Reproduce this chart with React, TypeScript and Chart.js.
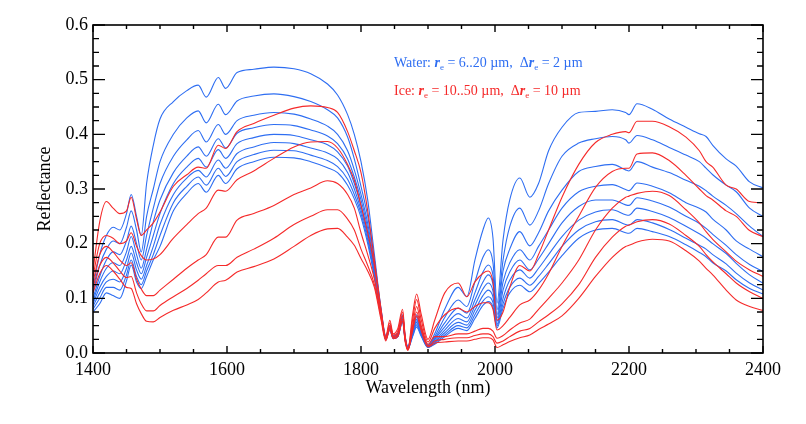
import React, { useEffect, useRef } from "react";
import { Chart, registerables } from "chart.js";

Chart.register(...registerables);

// ---------------- data ----------------
const WAVELENGTHS = [
  1400, 1410, 1420, 1430, 1440, 1450, 1457, 1465, 1472, 1480,
  1490, 1500, 1520, 1540, 1557, 1569, 1587, 1598, 1615, 1640,
  1670, 1700, 1725, 1750, 1765, 1780, 1790, 1800, 1810, 1820,
  1830, 1837, 1843, 1848, 1855, 1862, 1866, 1870, 1877, 1883,
  1890, 1900, 1910, 1925, 1945, 1958, 1970, 1982, 1990, 1997,
  2003, 2012, 2022, 2037, 2052, 2065, 2080, 2100, 2125, 2150,
  2175, 2195, 2200, 2212, 2235, 2260, 2285, 2305, 2315, 2325,
  2345, 2360, 2380, 2400,
];

const WATER_06 = [
  0.12, 0.18, 0.215, 0.23, 0.225, 0.255, 0.29, 0.25, 0.215, 0.31,
  0.38, 0.428, 0.46, 0.48, 0.49, 0.468, 0.504, 0.484, 0.513, 0.519,
  0.523, 0.52, 0.511, 0.492, 0.472, 0.436, 0.40, 0.35, 0.28, 0.18,
  0.08, 0.032, 0.05, 0.032, 0.036, 0.07, 0.03, 0.012, 0.045, 0.07,
  0.045, 0.015, 0.035, 0.08, 0.12, 0.103, 0.17, 0.225, 0.247, 0.21,
  0.091, 0.207, 0.28, 0.32, 0.285, 0.31, 0.37, 0.413, 0.44, 0.442,
  0.445, 0.44, 0.436, 0.456, 0.446, 0.428, 0.413, 0.401, 0.396, 0.38,
  0.355, 0.342, 0.313, 0.302,
];
const WATER_08 = [
  0.11, 0.16, 0.19, 0.205, 0.2, 0.23, 0.26, 0.225, 0.185, 0.25,
  0.3, 0.35, 0.4, 0.43, 0.443, 0.421, 0.455, 0.436, 0.461, 0.47,
  0.474, 0.469, 0.46, 0.445, 0.43, 0.395, 0.355, 0.305, 0.25, 0.17,
  0.078, 0.03, 0.048, 0.031, 0.035, 0.068, 0.028, 0.011, 0.042, 0.066,
  0.042, 0.014, 0.03, 0.065, 0.097, 0.085, 0.13, 0.175, 0.189, 0.165,
  0.079, 0.17, 0.231, 0.265, 0.234, 0.26, 0.31, 0.36, 0.384, 0.392,
  0.396, 0.39, 0.384, 0.398, 0.39, 0.376, 0.362, 0.35, 0.338, 0.326,
  0.307, 0.295, 0.265, 0.25,
];
const WATER_10 = [
  0.10, 0.14, 0.17, 0.185, 0.18, 0.205, 0.232, 0.2, 0.17, 0.215,
  0.265, 0.31, 0.36, 0.39, 0.407, 0.386, 0.418, 0.4, 0.425, 0.435,
  0.44, 0.437, 0.428, 0.415, 0.4, 0.37, 0.335, 0.29, 0.237, 0.163,
  0.076, 0.029, 0.047, 0.03, 0.034, 0.066, 0.027, 0.01, 0.04, 0.062,
  0.04, 0.013, 0.027, 0.055, 0.082, 0.073, 0.11, 0.148, 0.161, 0.142,
  0.07, 0.15, 0.19, 0.222, 0.196, 0.22, 0.26, 0.298, 0.332, 0.341,
  0.345, 0.335, 0.333, 0.35, 0.34, 0.33, 0.316, 0.305, 0.297, 0.287,
  0.27, 0.255, 0.232, 0.213,
];
const WATER_12 = [
  0.095, 0.13, 0.155, 0.165, 0.16, 0.185, 0.213, 0.18, 0.155, 0.19,
  0.24, 0.28, 0.33, 0.36, 0.377, 0.36, 0.392, 0.375, 0.402, 0.412,
  0.418, 0.416, 0.408, 0.397, 0.383, 0.355, 0.322, 0.28, 0.228, 0.158,
  0.074, 0.028, 0.046, 0.029, 0.033, 0.064, 0.026, 0.01, 0.038, 0.059,
  0.038, 0.012, 0.025, 0.048, 0.072, 0.064, 0.097, 0.13, 0.143, 0.126,
  0.064, 0.13, 0.165, 0.189, 0.17, 0.195, 0.225, 0.265, 0.295, 0.305,
  0.308, 0.299, 0.297, 0.311, 0.305, 0.293, 0.275, 0.265, 0.258, 0.245,
  0.225, 0.205, 0.19, 0.176,
];
const WATER_14 = [
  0.09, 0.12, 0.14, 0.15, 0.145, 0.17, 0.195, 0.165, 0.145, 0.175,
  0.215, 0.255, 0.31, 0.34, 0.356, 0.34, 0.372, 0.356, 0.383, 0.394,
  0.4, 0.398, 0.39, 0.381, 0.368, 0.342, 0.31, 0.27, 0.22, 0.153,
  0.072, 0.027, 0.045, 0.028, 0.032, 0.062, 0.025, 0.009, 0.036, 0.056,
  0.036, 0.011, 0.022, 0.042, 0.063, 0.057, 0.087, 0.117, 0.128, 0.113,
  0.058, 0.115, 0.148, 0.17, 0.152, 0.172, 0.2, 0.238, 0.268, 0.28,
  0.28, 0.271, 0.27, 0.284, 0.278, 0.267, 0.25, 0.237, 0.228, 0.217,
  0.197, 0.18, 0.162, 0.149,
];
const WATER_16 = [
  0.085, 0.11, 0.13, 0.135, 0.13, 0.155, 0.183, 0.152, 0.135, 0.16,
  0.195, 0.235, 0.29, 0.32, 0.334, 0.322, 0.353, 0.338, 0.365, 0.377,
  0.385, 0.383, 0.375, 0.366, 0.355, 0.33, 0.3, 0.262, 0.213, 0.148,
  0.07, 0.026, 0.044, 0.028, 0.031, 0.06, 0.024, 0.009, 0.034, 0.053,
  0.034, 0.011, 0.02, 0.037, 0.056, 0.051, 0.078, 0.105, 0.115, 0.102,
  0.053, 0.1, 0.133, 0.152, 0.137, 0.155, 0.18, 0.213, 0.243, 0.258,
  0.262, 0.253, 0.252, 0.265, 0.259, 0.248, 0.232, 0.218, 0.21, 0.2,
  0.182, 0.164, 0.143, 0.128,
];
const WATER_18 = [
  0.08, 0.1, 0.12, 0.12, 0.115, 0.143, 0.17, 0.14, 0.125, 0.15,
  0.18, 0.215, 0.275, 0.305, 0.322, 0.307, 0.338, 0.323, 0.35, 0.363,
  0.371, 0.37, 0.362, 0.352, 0.341, 0.318, 0.29, 0.255, 0.207, 0.143,
  0.068, 0.025, 0.043, 0.027, 0.03, 0.058, 0.023, 0.008, 0.032, 0.05,
  0.032, 0.01, 0.018, 0.033, 0.05, 0.046, 0.07, 0.095, 0.103, 0.092,
  0.05, 0.09, 0.12, 0.137, 0.124, 0.14, 0.163, 0.195, 0.225, 0.24,
  0.244, 0.235, 0.234, 0.244, 0.238, 0.226, 0.21, 0.197, 0.19, 0.18,
  0.163, 0.146, 0.128, 0.115,
];
const WATER_20 = [
  0.075, 0.09, 0.11, 0.105, 0.1, 0.132, 0.161, 0.13, 0.118, 0.14,
  0.17, 0.195, 0.26, 0.292, 0.31, 0.294, 0.325, 0.31, 0.337, 0.35,
  0.358, 0.357, 0.35, 0.339, 0.33, 0.307, 0.282, 0.248, 0.2, 0.138,
  0.066, 0.024, 0.042, 0.026, 0.03, 0.056, 0.022, 0.008, 0.03, 0.047,
  0.03, 0.01, 0.016, 0.03, 0.045, 0.041, 0.063, 0.087, 0.094, 0.084,
  0.046, 0.082, 0.11, 0.124, 0.112, 0.127, 0.148, 0.178, 0.21, 0.225,
  0.228, 0.22, 0.219, 0.228, 0.222, 0.213, 0.198, 0.184, 0.176, 0.165,
  0.15, 0.134, 0.118, 0.108,
];

const ICE_10 = [
  0.15, 0.24, 0.277, 0.265, 0.255, 0.26, 0.285, 0.245, 0.215, 0.225,
  0.238, 0.258, 0.305, 0.326, 0.34, 0.338, 0.38, 0.374, 0.405, 0.42,
  0.435, 0.448, 0.452, 0.449, 0.44, 0.405, 0.37, 0.33, 0.26, 0.17,
  0.08, 0.03, 0.06, 0.035, 0.045, 0.08, 0.03, 0.008, 0.07, 0.108,
  0.07, 0.025, 0.06, 0.11, 0.128, 0.103, 0.13, 0.146, 0.15, 0.13,
  0.06, 0.075, 0.12, 0.16, 0.15, 0.18, 0.225, 0.285, 0.345, 0.385,
  0.4, 0.405, 0.403, 0.424, 0.424, 0.414, 0.395, 0.37, 0.35, 0.34,
  0.307, 0.3, 0.277, 0.275,
];
const ICE_20 = [
  0.14, 0.2, 0.215, 0.21, 0.2, 0.205, 0.22, 0.195, 0.178, 0.17,
  0.172, 0.18, 0.21, 0.235, 0.255, 0.265, 0.298, 0.296, 0.317, 0.333,
  0.356, 0.377, 0.386, 0.387, 0.375, 0.345, 0.316, 0.27, 0.22, 0.16,
  0.075, 0.028, 0.055, 0.033, 0.04, 0.075, 0.028, 0.007, 0.06, 0.098,
  0.06, 0.02, 0.045, 0.07, 0.082, 0.075, 0.085, 0.092, 0.092, 0.08,
  0.042, 0.05, 0.065, 0.088, 0.097, 0.115, 0.145, 0.195, 0.25, 0.303,
  0.332, 0.338, 0.338, 0.364, 0.366, 0.352, 0.325, 0.3, 0.288, 0.28,
  0.26, 0.25, 0.224, 0.213,
];
const ICE_30 = [
  0.13, 0.18, 0.195, 0.185, 0.17, 0.16, 0.165, 0.135, 0.117, 0.105,
  0.105, 0.115, 0.135, 0.155, 0.17, 0.18, 0.212, 0.212, 0.243, 0.255,
  0.27, 0.29, 0.302, 0.315, 0.31, 0.29, 0.265, 0.22, 0.18, 0.135,
  0.07, 0.026, 0.05, 0.03, 0.035, 0.068, 0.025, 0.006, 0.05, 0.085,
  0.05, 0.016, 0.03, 0.03, 0.035, 0.035, 0.04, 0.045, 0.045, 0.04,
  0.027, 0.032, 0.042, 0.055, 0.062, 0.08, 0.1, 0.128, 0.17, 0.225,
  0.265, 0.285, 0.287, 0.292, 0.296, 0.288, 0.262, 0.238, 0.222, 0.208,
  0.185, 0.168, 0.152, 0.14,
];
const ICE_40 = [
  0.12, 0.16, 0.175, 0.165, 0.15, 0.138, 0.14, 0.11, 0.09, 0.077,
  0.077, 0.087, 0.103, 0.118, 0.133, 0.145, 0.16, 0.16, 0.175, 0.19,
  0.21, 0.235, 0.25, 0.262, 0.262, 0.245, 0.225, 0.19, 0.16, 0.125,
  0.065, 0.024, 0.046, 0.028, 0.032, 0.062, 0.022, 0.005, 0.045, 0.075,
  0.045, 0.013, 0.022, 0.025, 0.028, 0.028, 0.032, 0.035, 0.035, 0.03,
  0.018, 0.022, 0.03, 0.04, 0.045, 0.057, 0.07, 0.09, 0.125, 0.175,
  0.212, 0.232, 0.234, 0.24, 0.244, 0.236, 0.215, 0.195, 0.18, 0.167,
  0.145, 0.128, 0.112, 0.1,
];
const ICE_50 = [
  0.11, 0.145, 0.16, 0.15, 0.135, 0.12, 0.118, 0.09, 0.072, 0.058,
  0.057, 0.065, 0.078, 0.088, 0.098, 0.11, 0.13, 0.133, 0.148, 0.158,
  0.172, 0.195, 0.215, 0.227, 0.228, 0.212, 0.197, 0.173, 0.15, 0.12,
  0.06, 0.022, 0.043, 0.026, 0.03, 0.058, 0.02, 0.005, 0.04, 0.068,
  0.04, 0.011, 0.018, 0.02, 0.022, 0.022, 0.025, 0.028, 0.028, 0.024,
  0.01, 0.015, 0.021, 0.028, 0.033, 0.043, 0.053, 0.068, 0.1, 0.14,
  0.175, 0.195, 0.197, 0.203, 0.208, 0.205, 0.187, 0.168, 0.155, 0.143,
  0.115, 0.097, 0.085, 0.078,
];

const WATER_SERIES = [WATER_06, WATER_08, WATER_10, WATER_12, WATER_14, WATER_16, WATER_18, WATER_20];
const WATER_LABELS = ["6 µm", "8 µm", "10 µm", "12 µm", "14 µm", "16 µm", "18 µm", "20 µm"];
const ICE_SERIES = [ICE_10, ICE_20, ICE_30, ICE_40, ICE_50];
const ICE_LABELS = ["10 µm", "20 µm", "30 µm", "40 µm", "50 µm"];

const X_MIN = 1400;
const X_MAX = 2400;
const X_MAJOR = 200;
const X_MINOR = 50;
const Y_MIN = 0;
const Y_MAX = 0.6;
const Y_MAJOR = 0.1;
const Y_MINOR_PER_MAJOR = 4;

const X_TITLE = "Wavelength (nm)";
const Y_TITLE = "Reflectance";

// annotation text, split into styled runs: [text, style]
const WATER_NOTE: [string, string][] = [
  ["Water: ", "n"], ["r", "bi"], ["e", "sub"], [" = 6..20 µm,  Δ", "n"], ["r", "bi"], ["e", "sub"], [" = 2 µm", "n"],
];
const ICE_NOTE: [string, string][] = [
  ["Ice: ", "n"], ["r", "bi"], ["e", "sub"], [" = 10..50 µm,  Δ", "n"], ["r", "bi"], ["e", "sub"], [" = 10 µm", "n"],
];

const WATER_COLOR = "#2e6ef2";
const ICE_COLOR = "#f52a2a";
const SERIF = "'Liberation Serif', 'Times New Roman', serif";

const frameTicksPlugin = {
  id: "frameTicks",
  afterDatasetsDraw(chart: any) {
    const { ctx, chartArea, scales } = chart;
    const { left, right, top, bottom } = chartArea;
    const xs = scales.x;
    const ys = scales.y;
    ctx.save();
    ctx.strokeStyle = "#000";
    ctx.lineWidth = 1.6;
    ctx.strokeRect(left, top, right - left, bottom - top);
    ctx.lineWidth = 1.4;
    ctx.beginPath();
    const nx = Math.round((X_MAX - X_MIN) / X_MINOR);
    for (let i = 0; i <= nx; i++) {
      const v = X_MIN + i * X_MINOR;
      const px = xs.getPixelForValue(v);
      const major = (v - X_MIN) % X_MAJOR === 0;
      const len = major ? 7 : 4;
      ctx.moveTo(px, bottom);
      ctx.lineTo(px, bottom - len);
      ctx.moveTo(px, top);
      ctx.lineTo(px, top + len);
    }
    const ny = Math.round((Y_MAX - Y_MIN) / Y_MAJOR) * Y_MINOR_PER_MAJOR;
    for (let i = 0; i <= ny; i++) {
      const v = Y_MIN + (i * Y_MAJOR) / Y_MINOR_PER_MAJOR;
      const py = ys.getPixelForValue(v);
      const major = i % Y_MINOR_PER_MAJOR === 0;
      const len = major ? 12 : 6;
      ctx.moveTo(left, py);
      ctx.lineTo(left + len, py);
      ctx.moveTo(right, py);
      ctx.lineTo(right - len, py);
    }
    ctx.stroke();
    ctx.restore();
  },
};

function drawRuns(ctx: CanvasRenderingContext2D, runs: [string, string][], x: number, y: number, color: string) {
  let cx = x;
  ctx.fillStyle = color;
  ctx.textBaseline = "alphabetic";
  ctx.textAlign = "left";
  for (const [text, style] of runs) {
    let dy = 0;
    if (style === "bi") ctx.font = `italic bold 14px ${SERIF}`;
    else if (style === "sub") {
      ctx.font = `9px ${SERIF}`;
      dy = 3;
    } else ctx.font = `14px ${SERIF}`;
    ctx.fillText(text, cx, y + dy);
    cx += ctx.measureText(text).width;
  }
}

const notePlugin = {
  id: "note",
  afterDraw(chart: any) {
    const { ctx } = chart;
    ctx.save();
    drawRuns(ctx, WATER_NOTE, 394, 67, WATER_COLOR);
    drawRuns(ctx, ICE_NOTE, 394, 95, ICE_COLOR);
    ctx.restore();
  },
};

export default function App() {
  const ref = useRef<HTMLCanvasElement | null>(null);

  useEffect(() => {
    if (!ref.current) return;
    const mk = (series: number[]) => WAVELENGTHS.map((w, j) => ({ x: w, y: series[j] }));
    const datasets: any[] = [
      ...WATER_SERIES.map((s, i) => ({
        label: "Water " + WATER_LABELS[i],
        data: mk(s),
        borderColor: WATER_COLOR,
        borderWidth: 1.1,
        pointRadius: 0,
        cubicInterpolationMode: "monotone",
        order: 2,
      })),
      ...ICE_SERIES.map((s, i) => ({
        label: "Ice " + ICE_LABELS[i],
        data: mk(s),
        borderColor: ICE_COLOR,
        borderWidth: 1.1,
        pointRadius: 0,
        cubicInterpolationMode: "monotone",
        order: 1,
      })),
    ];

    const chart = new Chart(ref.current, {
      type: "line",
      data: { datasets },
      options: {
        animation: false,
        responsive: false,
        maintainAspectRatio: false,
        layout: { padding: { left: 0, top: 25, right: 43, bottom: 0 } },
        plugins: { legend: { display: false }, tooltip: { enabled: false } },
        scales: {
          x: {
            type: "linear",
            min: X_MIN,
            max: X_MAX,
            grid: { display: false, drawTicks: false },
            border: { display: false },
            ticks: {
              stepSize: X_MAJOR,
              padding: 6,
              color: "#000",
              font: { family: SERIF, size: 18 },
              maxRotation: 0,
              callback: (v: any) => String(v),
            },
            title: {
              display: true,
              text: X_TITLE,
              color: "#000",
              font: { family: SERIF, size: 18 },
              padding: { top: 0, bottom: 25 },
            },
            afterFit: (s: any) => {
              s.height = 71;
            },
          },
          y: {
            type: "linear",
            min: Y_MIN,
            max: Y_MAX,
            grid: { display: false, drawTicks: false },
            border: { display: false },
            ticks: {
              stepSize: Y_MAJOR,
              padding: 5,
              color: "#000",
              font: { family: SERIF, size: 18 },
              callback: (v: any) => Number(v).toFixed(1),
            },
            title: {
              display: true,
              text: Y_TITLE,
              color: "#000",
              font: { family: SERIF, size: 18 },
              padding: { top: 34, bottom: 0 },
            },
            afterFit: (s: any) => {
              s.width = 93;
            },
          },
        },
      },
      plugins: [frameTicksPlugin, notePlugin],
    });
    return () => chart.destroy();
  }, []);

  return (
    <div style={{ position: "absolute", left: 0, top: 0, width: 806, height: 424, background: "#fff" }}>
      <canvas ref={ref} width={806} height={424} style={{ display: "block", width: 806, height: 424 }} />
    </div>
  );
}
